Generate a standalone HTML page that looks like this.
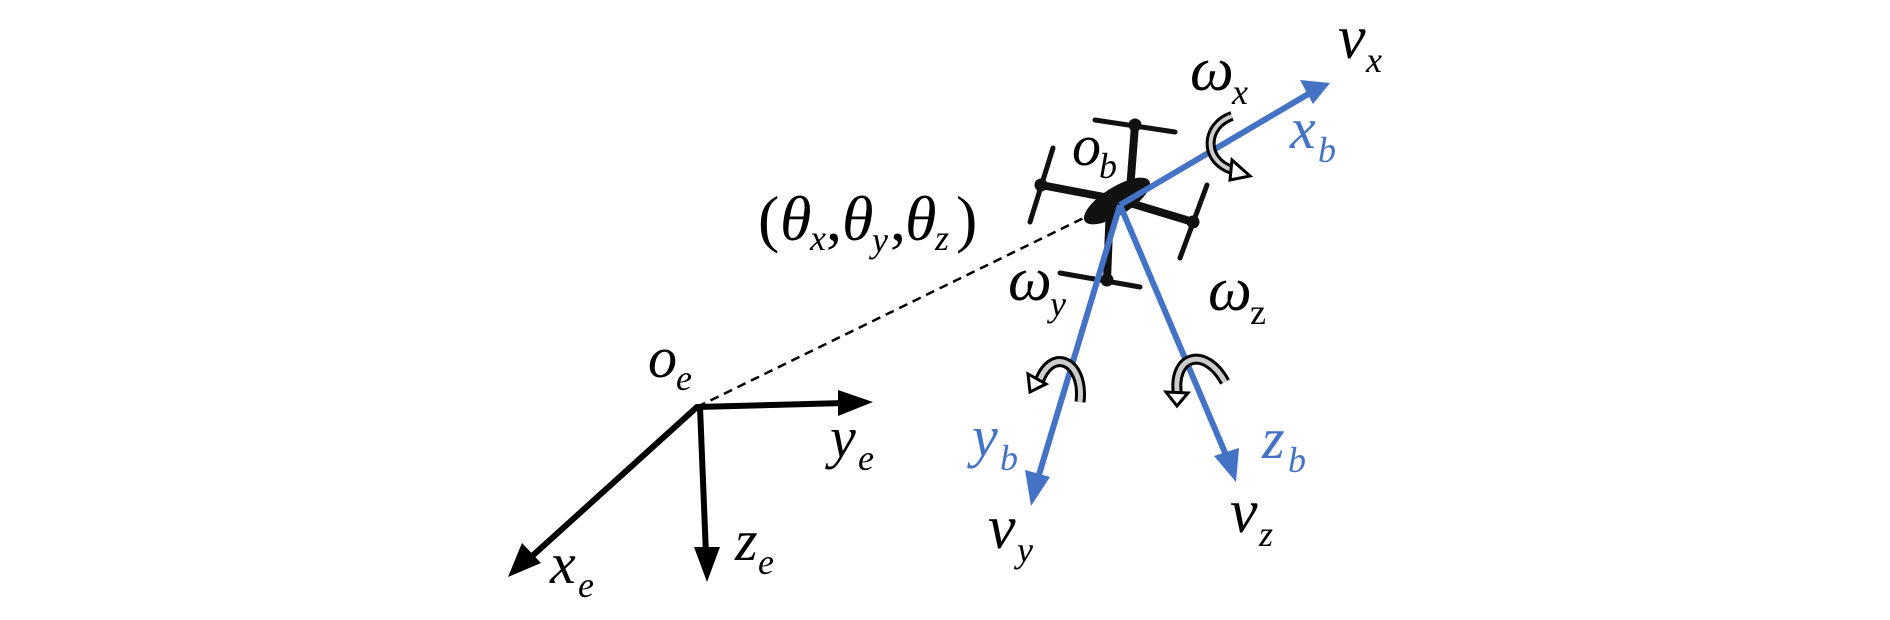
<!DOCTYPE html>
<html><head><meta charset="utf-8"><style>
html,body{margin:0;padding:0;background:#fff;}
svg{display:block;}
</style></head><body>
<svg width="1890" height="620" viewBox="0 0 1890 620" xmlns="http://www.w3.org/2000/svg">
<!-- dashed line -->
<line x1="697" y1="407" x2="1100" y2="210" stroke="#000" stroke-width="2.5" stroke-dasharray="9,6"/>
<!-- earth axes -->
<g stroke="#000" stroke-width="6" fill="none" stroke-linecap="round">
<line x1="697" y1="407" x2="845" y2="403"/>
<line x1="700" y1="407" x2="706" y2="555"/>
<line x1="697" y1="407" x2="530" y2="558"/>
</g>
<polygon points="873,402 838,390 838,416" fill="#000"/>
<polygon points="707,582 694,547 720,547" fill="#000"/>
<polygon points="508,577 522,543 541,563" fill="#000"/>
<!-- drone -->
<g stroke="#111" fill="#111" stroke-linecap="round">
<line x1="1120" y1="200" x2="1041" y2="185" stroke-width="8"/>
<line x1="1120" y1="200" x2="1193" y2="222" stroke-width="8"/>
<line x1="1130" y1="190" x2="1135" y2="125" stroke-width="8"/>
<line x1="1110" y1="205" x2="1107" y2="280" stroke-width="8"/>
<path d="M1053,148 L1030,222" stroke-width="5"/>
<path d="M1207,185 L1180,258" stroke-width="5"/>
<path d="M1095,120 L1175,132" stroke-width="5"/>
<path d="M1060,273 L1140,287" stroke-width="5"/>
<circle cx="1041" cy="185" r="6"/><circle cx="1193" cy="222" r="6"/>
<circle cx="1135" cy="125" r="6"/><circle cx="1107" cy="280" r="6"/>
</g>
<ellipse cx="1117" cy="201" rx="38" ry="14" transform="rotate(-32 1117 201)" fill="#111"/>
<!-- body axes -->
<g stroke="#4472C4" stroke-width="6" fill="none">
<line x1="1120" y1="205" x2="1310" y2="93"/>
<line x1="1120" y1="205" x2="1038" y2="478"/>
<line x1="1120" y1="205" x2="1226" y2="455"/>
</g>
<polygon points="1330,83 1300,80 1313,104" fill="#4472C4"/>
<polygon points="1031,506 1025,470 1050,477" fill="#4472C4"/>
<polygon points="1236,482 1214,456 1239,448" fill="#4472C4"/>
<!-- rotation arrows -->
<g fill="none" stroke-linecap="butt">
<path d="M1232,116 C1205,125 1202,160 1232,170" stroke="#000" stroke-width="10"/>
<path d="M1232,116 C1205,125 1202,160 1232,170" stroke="#ccc" stroke-width="4"/>
<path d="M1080,402 C1085,360 1050,345 1038,385" stroke="#000" stroke-width="11"/>
<path d="M1080,402 C1085,360 1050,345 1038,385" stroke="#ccc" stroke-width="5"/>
<path d="M1225,382 C1205,345 1170,355 1178,398" stroke="#000" stroke-width="11"/>
<path d="M1225,382 C1205,345 1170,355 1178,398" stroke="#ccc" stroke-width="5"/>
</g>
<polygon points="1250,176 1232,160 1230,180" fill="#fff" stroke="#000" stroke-width="3"/>
<polygon points="1030,392 1028,374 1046,384" fill="#fff" stroke="#000" stroke-width="3"/>
<polygon points="1177,406 1166,392 1188,393" fill="#fff" stroke="#000" stroke-width="3"/>
<!-- labels -->
<g fill="#000" font-family="Liberation Serif, DejaVu Serif, serif" font-style="italic">
<text x="648" y="377" font-size="58">o</text><text x="676" y="390" font-size="36">e</text>
<text x="830" y="457" font-size="58">y</text><text x="858" y="470" font-size="36">e</text>
<text x="735" y="560" font-size="58">z</text><text x="758" y="574" font-size="36">e</text>
<text x="550" y="583" font-size="58">x</text><text x="578" y="597" font-size="36">e</text>
<text x="758" y="240" font-size="64" font-style="normal">(</text>
<text x="780" y="240" font-size="64">θ</text><text x="810" y="250" font-size="36">x</text>
<text x="826" y="240" font-size="64" font-style="normal">,</text>
<text x="842" y="240" font-size="64">θ</text><text x="872" y="252" font-size="36">y</text>
<text x="890" y="240" font-size="64" font-style="normal">,</text>
<text x="905" y="240" font-size="64">θ</text><text x="935" y="250" font-size="36">z</text>
<text x="956" y="240" font-size="64" font-style="normal">)</text>
<text x="1072" y="165" font-size="58">o</text><text x="1099" y="178" font-size="36">b</text>
<text x="1338" y="58" font-size="62">v</text><text x="1366" y="72" font-size="36">x</text>
<text x="1190" y="90" font-size="62">ω</text><text x="1232" y="104" font-size="36">x</text>
<text x="1008" y="300" font-size="62">ω</text><text x="1050" y="316" font-size="36">y</text>
<text x="1208" y="310" font-size="62">ω</text><text x="1250" y="324" font-size="36" font-style="normal">z</text>
<text x="988" y="548" font-size="62">v</text><text x="1017" y="562" font-size="36">y</text>
<text x="1230" y="532" font-size="62">v</text><text x="1259" y="546" font-size="36">z</text>
</g>
<g fill="#4472C4" font-family="Liberation Serif, DejaVu Serif, serif" font-style="italic">
<text x="1290" y="148" font-size="58">x</text><text x="1318" y="162" font-size="36">b</text>
<text x="972" y="456" font-size="58">y</text><text x="1000" y="470" font-size="36">b</text>
<text x="1262" y="458" font-size="58">z</text><text x="1288" y="472" font-size="36">b</text>
</g>
</svg>
</body></html>
